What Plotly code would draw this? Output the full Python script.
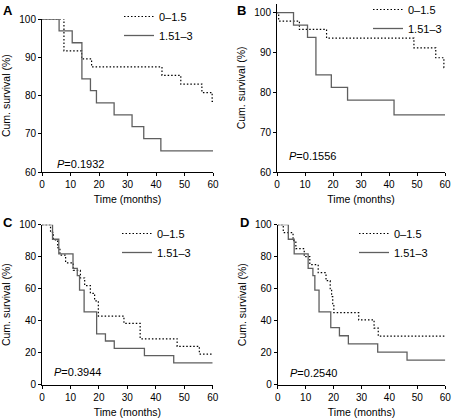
import plotly.graph_objects as go

W, H = 452, 420

# ---------------- data ----------------
# Panel A
a_low_t = [0, 7.7, 13.9, 17.4, 42.1, 48.7, 56.1, 59.7, 60]
a_low_s = [100, 91.7, 89.6, 87.5, 85.3, 83.0, 80.8, 78.5, 78.5]
a_high_t = [0, 6.0, 10.6, 14.0, 17.0, 19.1, 25.3, 31.6, 35.7, 41.7, 60]
a_high_s = [100, 96.9, 93.8, 84.4, 81.3, 78.1, 75.0, 71.9, 68.8, 65.6, 65.6]
# Panel B
b_low_t = [0, 0.6, 8.0, 17.7, 48.9, 56.7, 59.6, 60]
b_low_s = [100, 97.9, 95.8, 93.6, 91.2, 88.7, 86.2, 86.2]
b_high_t = [0, 5.9, 10.9, 13.9, 19.4, 25.2, 41.8, 60]
b_high_s = [100, 96.9, 93.8, 84.4, 81.3, 78.1, 74.4, 74.4]
# Panel C
c_low_t = [0, 3.0, 4.0, 5.5, 6.3, 8.3, 11.0, 13.5, 15.0, 17.0, 18.5, 19.8, 28.8, 34.5, 47.5, 55.3, 60]
c_low_s = [100, 95.2, 90.5, 85.7, 81.0, 76.2, 71.4, 66.7, 61.9, 57.1, 52.4, 42.9, 38.3, 28.7, 23.9, 19.1, 19.1]
c_high_t = [0, 3.7, 5.9, 10.9, 12.4, 13.2, 14.8, 19.2, 22.3, 25.4, 36.0, 46.3, 60]
c_high_s = [100, 90.9, 81.8, 72.7, 68.2, 59.1, 45.5, 31.8, 27.3, 22.7, 18.2, 13.6, 13.6]
# Panel D
d_low_t = [0, 2.0, 5.5, 6.5, 9.5, 11.5, 14.5, 17.3, 18.8, 19.3, 19.7, 20.1, 29.0, 34.5, 36.0, 60]
d_low_s = [100, 95, 90, 85, 80, 75, 70, 65, 60, 55, 50, 45, 40.5, 35.4, 30.4, 30.4]
d_high_t = [0, 3.8, 5.9, 10.9, 12.6, 13.3, 14.8, 19.0, 22.1, 25.3, 35.8, 46.3, 60]
d_high_s = [100, 90.9, 81.8, 72.7, 68.2, 59.1, 45.5, 35.7, 30.6, 25.5, 20.4, 15.3, 15.3]

group_names = ["0\u20131.5", "1.51\u20133"]
panel_letters = ["A", "B", "C", "D"]
p_values = ["0.1932", "0.1556", "0.3944", "0.2540"]
x_ticks = [0, 10, 20, 30, 40, 50, 60]
y_ticks_top = [60, 70, 80, 90, 100]
y_ticks_bottom = [0, 20, 40, 60, 80, 100]

panels = [
    (a_low_t, a_low_s, a_high_t, a_high_s),
    (b_low_t, b_low_s, b_high_t, b_high_s),
    (c_low_t, c_low_s, c_high_t, c_high_s),
    (d_low_t, d_low_s, d_high_t, d_high_s),
]

# ---------------- layout geometry (pixels) ----------------
boxes = [
    (42, 213, 19, 172.3),
    (277, 445, 3.5, 172.3),
    (42, 212.7, 224.7, 384.7),
    (277.7, 445.3, 224.7, 384.7),
]
y_ranges = [[60, 100], [60, 102.3], [0, 100], [0, 100]]
y_ticks = [y_ticks_top, y_ticks_top, y_ticks_bottom, y_ticks_bottom]
legend_pos = [(119, 2), (368, -5), (117, 219), (354, 219)]
p_pos = [(55, 164), (287, 156), (52, 372), (288, 373)]
letter_pos = [(1, 1), (235, 1), (1, 213), (238, 213)]

FONT = "Liberation Sans, Arial, Helvetica, sans-serif"

fig = go.Figure()
solid_color = "#5f5f5f"

for i, (lt, ls, ht, hs) in enumerate(panels):
    n = i + 1
    xa = "x" if n == 1 else f"x{n}"
    ya = "y" if n == 1 else f"y{n}"
    leg = "legend" if n == 1 else f"legend{n}"
    fig.add_trace(go.Scatter(
        x=lt, y=ls, mode="lines", line_shape="hv", name=group_names[0],
        line=dict(color="#000000", width=1.2, dash="1.5px,2px"),
        xaxis=xa, yaxis=ya, legend=leg, showlegend=True))
    fig.add_trace(go.Scatter(
        x=ht, y=hs, mode="lines", line_shape="hv", name=group_names[1],
        line=dict(color=solid_color, width=1.3),
        xaxis=xa, yaxis=ya, legend=leg, showlegend=True))

layout = dict(
    width=W, height=H,
    margin=dict(l=0, r=0, t=0, b=0, autoexpand=False),
    paper_bgcolor="white", plot_bgcolor="white",
    font=dict(family=FONT, size=10, color="black"),
    annotations=[],
)

for i, (l, r, t, b) in enumerate(boxes):
    n = i + 1
    xk = "xaxis" if n == 1 else f"xaxis{n}"
    yk = "yaxis" if n == 1 else f"yaxis{n}"
    xa = "x" if n == 1 else f"x{n}"
    ya = "y" if n == 1 else f"y{n}"
    common = dict(showline=True, linecolor="black", linewidth=1,
                  ticks="outside", ticklen=3, tickwidth=1, tickcolor="black",
                  showgrid=False, zeroline=False, automargin=False,
                  tickfont=dict(family=FONT, size=10, color="black"))
    layout[xk] = dict(domain=[l / W, r / W], anchor=ya, range=[0, 60],
                      tickvals=x_ticks,
                      title=dict(text="Time (months)", font=dict(size=10.5), standoff=6),
                      **common)
    layout[yk] = dict(domain=[1 - b / H, 1 - t / H], anchor=xa, range=y_ranges[i],
                      tickvals=y_ticks[i],
                      title=dict(text="Cum. survival (%)", font=dict(size=10.5), standoff=6),
                      **common)
    lk = "legend" if n == 1 else f"legend{n}"
    lx, ly = legend_pos[i]
    layout[lk] = dict(x=lx / W, y=1 - ly / H, xanchor="left", yanchor="top",
                      bgcolor="rgba(0,0,0,0)", borderwidth=0,
                      font=dict(family=FONT, size=11, color="black"),
                      itemwidth=30, tracegroupgap=0)
    px_, py_ = p_pos[i]
    layout["annotations"].append(dict(
        text=f"<i>P</i>={p_values[i]}", xref="paper", yref="paper",
        x=px_ / W, y=1 - py_ / H, xanchor="left", yanchor="middle",
        showarrow=False, font=dict(family=FONT, size=11, color="black")))
    lx2, ly2 = letter_pos[i]
    layout["annotations"].append(dict(
        text=f"<b>{panel_letters[i]}</b>", xref="paper", yref="paper",
        x=lx2 / W, y=1 - ly2 / H, xanchor="left", yanchor="top",
        showarrow=False, font=dict(family=FONT, size=13, color="black")))

fig.update_layout(**layout)
fig.write_html("out.html", config={"displayModeBar": False},
               post_script="document.body.style.margin='0';document.body.style.overflow='hidden';")
